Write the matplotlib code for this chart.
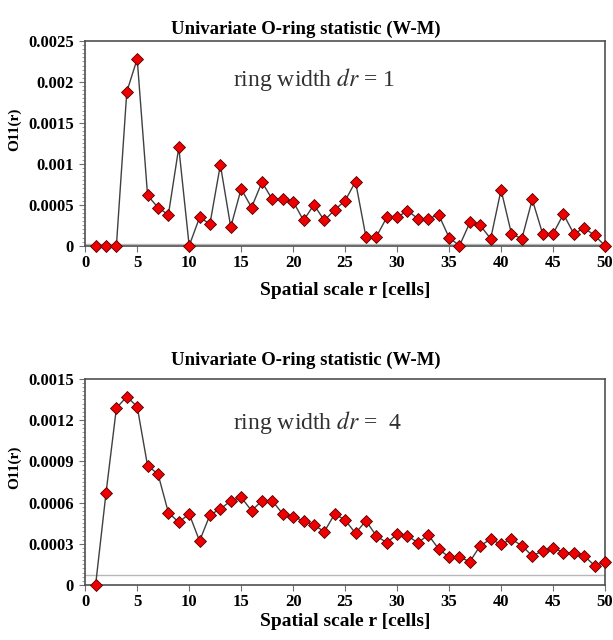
import numpy as np
import matplotlib.pyplot as plt
from matplotlib.ticker import MultipleLocator, AutoMinorLocator

plt.rcParams['font.family'] = ['Liberation Serif', 'DejaVu Serif']
plt.rcParams['mathtext.fontset'] = 'stix'

# O-ring statistic O11(r) for the W-M pattern, two ring widths
r = np.arange(1, 51)

o11_dr1 = [0.0, 0.0, 0.0, 0.00188, 0.00228, 0.000614, 0.000467, 0.000378, 0.0012, 0.0,
           0.000345, 0.000268, 0.000988, 0.000228, 0.000695, 0.000467, 0.000777, 0.000565, 0.000565, 0.00054,
           0.000309, 0.0005, 0.000309, 0.000439, 0.000549, 0.000784, 0.00011, 0.00011, 0.000345, 0.000345,
           0.00043, 0.00033, 0.00033, 0.000378, 0.0001, 0.0, 0.000284, 0.000248, 0.000085, 0.000683,
           0.000146, 0.000085, 0.000565, 0.000146, 0.000146, 0.000386, 0.000146, 0.000216, 0.000126, 0.0]

o11_dr4 = [0.0, 0.000668, 0.001287, 0.001371, 0.001298, 0.000867, 0.000808, 0.000527, 0.000456, 0.000517,
           0.00032, 0.00051, 0.000553, 0.000612, 0.000638, 0.000541, 0.000612, 0.000612, 0.000517, 0.000495,
           0.000468, 0.000437, 0.000388, 0.000517, 0.000473, 0.000376, 0.000468, 0.000357, 0.000308, 0.000369,
           0.000357, 0.000308, 0.000364, 0.000262, 0.000202, 0.000202, 0.00017, 0.000286, 0.000333, 0.000296,
           0.000333, 0.000286, 0.000211, 0.000248, 0.000272, 0.000235, 0.000235, 0.000211, 0.000141, 0.000165]

# reference level (pattern intensity) drawn as a thin grey line
ref_dr1 = 0.00002
ref_dr4 = 0.00007

panels = [
    # values, ref line, ymax, ystep, note, note y, title pad, xlabel y, axes rect
    (o11_dr1, ref_dr1, 0.0025, 0.0005, 'ring width $dr$ = 1', 0.81, 5, -0.176,
     [0.139, 0.616, 0.848, 0.320]),
    (o11_dr4, ref_dr4, 0.0015, 0.0003, 'ring width $dr$ =  4', 0.79, 10, -0.136,
     [0.139, 0.086, 0.848, 0.322]),
]

fig = plt.figure(figsize=(6.13, 6.4), dpi=100)

for vals, ref, ymax, ystep, note, note_y, tpad, xl_y, rect in panels:
    ax = fig.add_axes(rect)
    ax.axhline(ref, color='#b8b8b8', lw=1.0, zorder=1)
    ax.plot(r, vals, color='#404040', lw=1.0, marker='D', markersize=6,
            markerfacecolor='#ee0000', markeredgecolor='#500000', markeredgewidth=0.6,
            zorder=3, clip_on=False)
    ax.set_xlim(0, 50)
    ax.set_ylim(0, ymax)
    ax.xaxis.set_major_locator(MultipleLocator(5))
    ax.yaxis.set_major_locator(MultipleLocator(ystep))
    ax.yaxis.set_minor_locator(AutoMinorLocator(10))
    ax.yaxis.set_major_formatter(plt.FuncFormatter(lambda v, p: '0' if v == 0 else ('%g' % v)))
    ax.tick_params(axis='both', which='major', direction='out', length=4.5, width=0.8,
                   color='#707070', labelsize=12)
    ax.tick_params(axis='x', which='major', pad=2)
    ax.tick_params(axis='y', which='major', pad=3.5)
    ax.tick_params(axis='y', which='minor', direction='out', length=2, width=0.6, color='#909090')
    for lab in ax.get_xticklabels() + ax.get_yticklabels():
        lab.set_fontweight('bold')
    for sp in ax.spines.values():
        sp.set_color('#505050')
        sp.set_linewidth(1.2)
    ax.set_title('Univariate O-ring statistic (W-M)', fontsize=13.5, fontweight='bold',
                 pad=tpad, x=0.425)
    ax.set_xlabel('Spatial scale r [cells]', fontsize=14, fontweight='bold')
    ax.xaxis.set_label_coords(0.5, xl_y)
    ax.set_ylabel('O11(r)', fontsize=11, fontweight='bold')
    ax.yaxis.set_label_coords(-0.123, 0.57)
    ax.text(0.284, note_y, note, transform=ax.transAxes, fontsize=17, color='#303030',
            ha='left', va='center')

fig.savefig('out.png', dpi=100)
